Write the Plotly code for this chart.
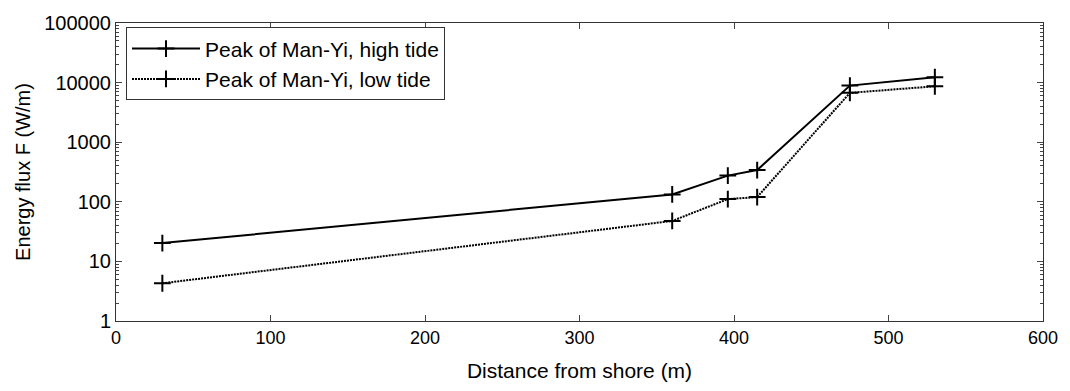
import plotly.graph_objects as go

# Distance from shore (m) and energy flux F (W/m)
distance = [30, 360, 396, 415, 475, 530]
flux_high = [20.3, 133, 275, 341, 8900, 12300]
flux_low = [4.3, 47.7, 111, 120, 6730, 8670]

y_tickvals = [1, 10, 100, 1000, 10000, 100000]
y_ticktext = ["1", "10", "100", "1000", "10000", "100000"]
x_tickvals = [0, 100, 200, 300, 400, 500, 600]
y_minorvals = [k * 10 ** d for d in range(5) for k in range(2, 10)]

font_family = "Liberation Sans, Arial, Helvetica, sans-serif"
frame = "#333"

fig = go.Figure()
fig.add_trace(go.Scatter(
    x=distance, y=flux_high, mode="lines+markers",
    name="Peak of Man-Yi, high tide",
    line=dict(color="black", width=2),
    marker=dict(symbol="cross-thin", size=12, line=dict(color="black", width=2)),
))
fig.add_trace(go.Scatter(
    x=distance, y=flux_low, mode="lines+markers",
    name="Peak of Man-Yi, low tide",
    line=dict(color="black", width=2, dash="2px,1px"),
    marker=dict(symbol="cross-thin", size=12, line=dict(color="black", width=2)),
))

fig.update_layout(
    width=1070, height=391,
    margin=dict(l=116, r=25, t=15, b=70),
    paper_bgcolor="white", plot_bgcolor="white",
    font=dict(family=font_family, size=18, color="black"),
    showlegend=True,
    legend=dict(
        x=0.0108, y=0.985, xanchor="left", yanchor="top",
        bgcolor="white", bordercolor=frame, borderwidth=1,
        font=dict(size=21), itemwidth=68, tracegroupgap=0,
    ),
)
fig.update_xaxes(
    range=[0, 600], tickvals=x_tickvals, ticks="inside", ticklen=6,
    tickfont=dict(size=18),
    showline=True, linecolor=frame, linewidth=1, mirror="ticks",
    showgrid=False, zeroline=False,
    title=dict(text="Distance from shore (m)", font=dict(size=21), standoff=16),
)
fig.update_yaxes(
    type="log", range=[0, 5], tickvals=y_tickvals, ticktext=y_ticktext,
    ticks="inside", ticklen=6, tickfont=dict(size=20),
    minor=dict(tickmode="array", tickvals=y_minorvals, ticks="inside",
               ticklen=3, showgrid=False),
    showline=True, linecolor=frame, linewidth=1, mirror="ticks",
    showgrid=False, zeroline=False,
    title=dict(text="Energy flux F (W/m)", font=dict(size=20), standoff=8),
)

fig.write_html("out.html")
